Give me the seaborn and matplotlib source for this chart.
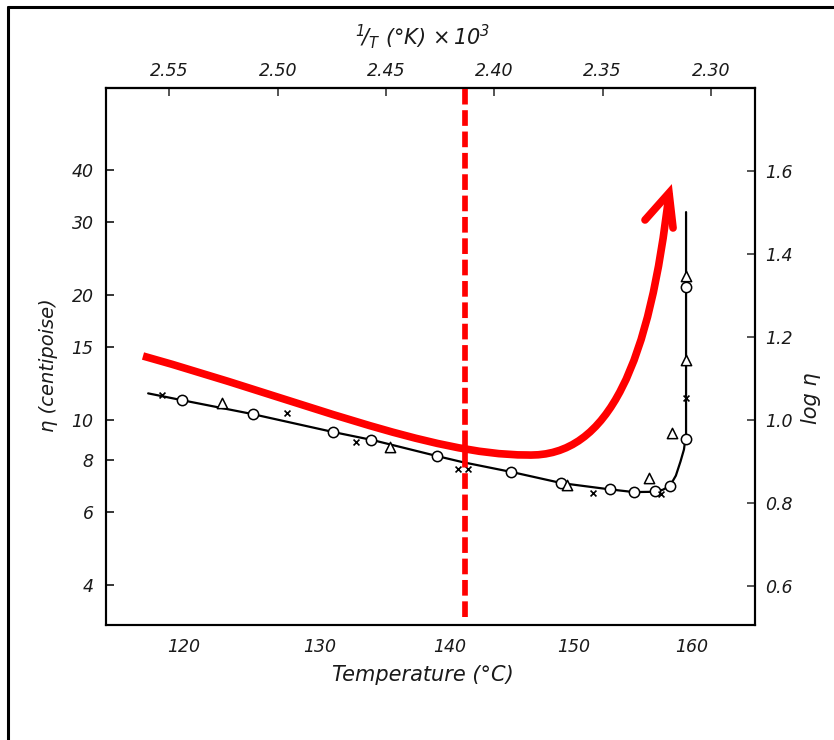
import numpy as np
import pandas as pd
import matplotlib
matplotlib.use("Agg")
import matplotlib.pyplot as plt
from matplotlib.path import Path
from matplotlib.patches import PathPatch
from matplotlib.lines import Line2D
import seaborn as sns

# ---------------- data (temperature in deg C, viscosity in centipoise) ----------------
curve_T = [117.5, 119.9, 125.0, 131.0, 134.0, 139.0, 141.0, 145.0, 149.0, 153.0, 155.0,
           156.8, 157.5, 158.1, 158.6, 159.0, 159.3, 159.48, 159.48]
curve_eta = [11.6, 11.17, 10.34, 9.36, 8.95, 8.19, 7.92, 7.49, 7.05, 6.81, 6.71,
             6.72, 6.80, 6.95, 7.35, 7.95, 8.5, 9.3, 31.7]

circle_T = [119.9, 125.0, 131.0, 133.9, 139.0, 144.9, 148.9, 153.0, 155.0, 156.8, 158.1, 159.48, 159.48]
circle_eta = [11.17, 10.34, 9.36, 8.95, 8.19, 7.49, 7.05, 6.82, 6.71, 6.75, 6.93, 9.0, 20.9]

triangle_T = [122.8, 135.3, 149.4, 156.3, 158.3, 159.48, 159.48]
triangle_eta = [10.99, 8.61, 6.97, 7.25, 9.30, 13.95, 22.2]

cross_T = [118.5, 127.5, 132.7, 140.6, 141.4, 151.6, 157.3, 159.48]
cross_eta = [11.49, 10.4, 8.85, 7.62, 7.62, 6.67, 6.63, 11.29]

temp_ticks = [120, 130, 140, 150, 160]
inv_ticks = [2.55, 2.50, 2.45, 2.40, 2.35, 2.30]
eta_ticks = [4, 6, 8, 10, 15, 20, 30, 40]
log_ticks = [0.6, 0.8, 1.0, 1.2, 1.4, 1.6]
marked_T = 141.2   # red dashed marker


def inv_T(t):
    return 1000.0 / (np.asarray(t, dtype=float) + 273.15)


curve_df = pd.DataFrame({"inv": inv_T(curve_T), "eta": curve_eta, "order": range(len(curve_T))})
circ_df = pd.DataFrame({"inv": inv_T(circle_T), "eta": circle_eta})
tri_df = pd.DataFrame({"inv": inv_T(triangle_T), "eta": triangle_eta})
cross_df = pd.DataFrame({"inv": inv_T(cross_T), "eta": cross_eta})

# ---------------- style ----------------
sns.set_theme(style="white")
plt.rcParams["font.family"] = ["DejaVu Sans"]
plt.rcParams["font.style"] = "italic"
plt.rcParams["mathtext.fontset"] = "dejavusans"
plt.rcParams["mathtext.default"] = "it"
txt = "#1a1a1a"

fig = plt.figure(figsize=(8.34, 7.40), dpi=100)
fig.patch.set_facecolor("white")
ax = fig.add_axes([0.1271, 0.1554, 0.7782, 0.7257])
ax.set_facecolor("white")

sns.lineplot(data=curve_df, x="inv", y="eta", sort=False, estimator=None,
             color="black", lw=1.6, ax=ax, zorder=2)
sns.scatterplot(data=circ_df, x="inv", y="eta", marker="o", s=55, facecolor="white",
                edgecolor="black", linewidth=1.1, ax=ax, zorder=3)
sns.scatterplot(data=tri_df, x="inv", y="eta", marker="^", s=55, facecolor="white",
                edgecolor="black", linewidth=1.1, ax=ax, zorder=3)
sns.scatterplot(data=cross_df, x="inv", y="eta", marker="x", s=18, color="black",
                linewidth=1.2, ax=ax, zorder=3)

ax.set_yscale("log")
ax.set_xlim(2.5793, 2.2796)
ax.set_ylim(3.21, 63.1)
ax.set_xlabel("")
ax.set_ylabel("")

ax.set_xticks(inv_T(temp_ticks))
ax.set_xticklabels([str(t) for t in temp_ticks])
ax.set_yticks(eta_ticks)
ax.set_yticklabels([str(e) for e in eta_ticks])
ax.yaxis.set_minor_locator(matplotlib.ticker.NullLocator())
ax.xaxis.set_minor_locator(matplotlib.ticker.NullLocator())
ax.tick_params(axis="x", direction="in", length=6, width=1.1, pad=9, labelsize=12.5,
               colors="black", labelcolor=txt)
ax.tick_params(axis="y", direction="in", length=6, width=1.1, pad=9, labelsize=12.5,
               colors="black", labelcolor=txt)

for s in ax.spines.values():
    s.set_visible(True)
    s.set_color("black")
    s.set_linewidth(1.5)

# top axis: 1/T
top = ax.secondary_xaxis("top", functions=(lambda x: x, lambda x: x))
top.set_xticks(inv_ticks)
top.set_xticklabels([f"{v:.2f}" for v in inv_ticks])
top.tick_params(direction="in", length=6, width=1.1, pad=6, labelsize=12.5, labelcolor=txt)
top.spines["top"].set_linewidth(1.5)

# right axis: log eta
ax2 = ax.twinx()
ax2.set_ylim(np.log10(3.21), np.log10(63.1))
ax2.set_yticks(log_ticks)
ax2.set_yticklabels([f"{v:.1f}" for v in log_ticks])
ax2.tick_params(direction="in", length=6, width=1.1, pad=7, labelsize=12.5, labelcolor=txt)
for s in ax2.spines.values():
    s.set_linewidth(1.5)
    s.set_color("black")
ax2.grid(False)
ax.grid(False)

# axis titles
fig.text(423 / 834, 1 - 675 / 740, "Temperature (°C)", ha="center", va="center",
         fontsize=15, color=txt)
fig.text(49 / 834, 1 - 365 / 740, "η (centipoise)", ha="center", va="center",
         rotation=90, fontsize=14, color=txt)
fig.text(811 / 834, 1 - 398 / 740, "log η", ha="center", va="center",
         rotation=90, fontsize=15, color=txt)
fig.text(423 / 834, 1 - 37 / 740, r"$^{1}\!/_{T}$ (°K) $\times\,10^{3}$", ha="center",
         va="center", fontsize=15, color=txt)

# red overlay: dashed vertical marker
ax.axvline(inv_T(marked_T), ymin=0.015, ymax=1.0, color="red", lw=4.1,
           linestyle=(0, (2.75, 1.0)), zorder=6, clip_on=False)

# red overlay: curved arrow (axes-fraction coordinates)
verts = [(0.0570, 0.5009), (0.2989, 0.4190), (0.4992, 0.3166), (0.6487, 0.3166),
         (0.7766, 0.3110), (0.8382, 0.4935), (0.8675, 0.8045)]
codes = [Path.MOVETO] + [Path.CURVE4] * 6
arrow = PathPatch(Path(verts, codes), transform=ax.transAxes, fill=False,
                  edgecolor="red", lw=5.5, capstyle="butt", zorder=7, clip_on=False)
ax.add_patch(arrow)
ax.plot([0.8305, 0.8675, 0.8737], [0.7542, 0.8045, 0.7393], transform=ax.transAxes,
        color="red", lw=5.5, solid_capstyle="round", solid_joinstyle="miter",
        zorder=7, clip_on=False)

# outer frame lines (left and top)
fig.add_artist(Line2D([8 / 834, 8 / 834], [0, 1 - 7 / 740], transform=fig.transFigure,
                      color="black", lw=2.2))
fig.add_artist(Line2D([8 / 834, 1], [1 - 7 / 740, 1 - 7 / 740], transform=fig.transFigure,
                      color="black", lw=2.2))

fig.savefig("out.png", dpi=100)
